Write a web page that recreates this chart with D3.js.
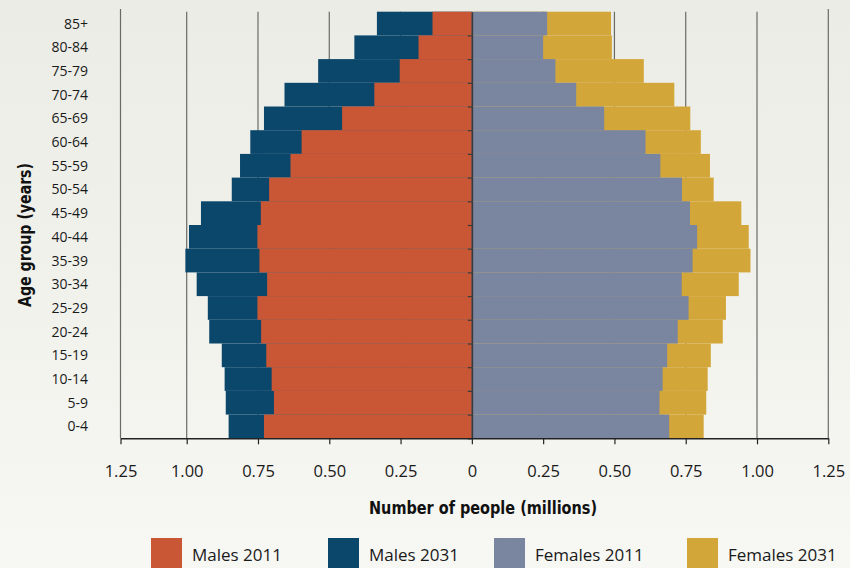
<!DOCTYPE html>
<html>
<head>
<meta charset="utf-8">
<script src="https://cdn.jsdelivr.net/npm/d3@7"></script>
<style>
  html, body { margin: 0; padding: 0; background: #f3f3ee; }
  svg { display: block; }
</style>
</head>
<body>
<svg id="chart" width="850" height="568"></svg>
<script>
// ---- data (millions of people) ----
const ageGroups = ["85+", "80-84", "75-79", "70-74", "65-69", "60-64", "55-59", "50-54", "45-49",
                   "40-44", "35-39", "30-34", "25-29", "20-24", "15-19", "10-14", "5-9", "0-4"];
const males2011   = [0.138, 0.187, 0.253, 0.342, 0.455, 0.597, 0.636, 0.711, 0.740,
                     0.752, 0.745, 0.718, 0.752, 0.739, 0.721, 0.702, 0.694, 0.729];
const males2031   = [0.333, 0.412, 0.539, 0.657, 0.729, 0.777, 0.813, 0.842, 0.950,
                     0.992, 1.005, 0.965, 0.926, 0.921, 0.877, 0.867, 0.863, 0.853];
const females2011 = [0.264, 0.250, 0.293, 0.366, 0.464, 0.609, 0.661, 0.737, 0.765,
                     0.790, 0.774, 0.736, 0.760, 0.722, 0.685, 0.669, 0.658, 0.692];
const females2031 = [0.488, 0.491, 0.603, 0.710, 0.766, 0.803, 0.835, 0.848, 0.945,
                     0.971, 0.977, 0.936, 0.891, 0.880, 0.838, 0.827, 0.822, 0.813];
const xTicks = [-1.25, -1, -0.75, -0.5, -0.25, 0, 0.25, 0.5, 0.75, 1, 1.25];
const gridValues = [-1.25, -1, -0.75, -0.5, -0.25, 0.25, 0.5, 0.75, 1, 1.25];
const legendLabels = ["Males 2011", "Males 2031", "Females 2011", "Females 2031"];
const xTitle = "Number of people (millions)";
const yTitle = "Age group (years)";

// ---- styles ----
const colors = {
  m2011: "#c95736",
  m2031: "#0b466b",
  f2011: "#7a859f",
  f2031: "#d3a639"
};
const legendColors = [colors.m2011, colors.m2031, colors.f2011, colors.f2031];
const legendX = [151, 328, 494, 687];

const svg = d3.select("#chart");

// background gradient
const defs = svg.append("defs");
const grad = defs.append("linearGradient").attr("id", "bg").attr("x1", 0).attr("y1", 0).attr("x2", 0).attr("y2", 1);
grad.append("stop").attr("offset", "0%").attr("stop-color", "#ecece6");
grad.append("stop").attr("offset", "100%").attr("stop-color", "#f7f7f3");
svg.append("rect").attr("width", 850).attr("height", 568).attr("fill", "url(#bg)");

// ---- scales ----
const x = d3.scaleLinear().domain([-1.25, -1, 1.25]).range([120.5, 186.7, 828.3]);
const plotTop = 11.7, plotBottom = 438.3;
const y = d3.scaleBand().domain(ageGroups).range([plotTop, plotBottom]).padding(0);
const yEdge = d3.scaleLinear().domain([0, ageGroups.length]).range([plotTop, plotBottom]);

// ---- grid lines ----
svg.append("g").selectAll("line").data(gridValues).join("line")
  .attr("x1", d => x(d)).attr("x2", d => x(d))
  .attr("y1", d => Math.abs(d) === 1.25 ? 9 : plotTop).attr("y2", plotBottom)
  .attr("stroke", "#6a6a66").attr("stroke-width", 1.2);

// ---- bars ----
function leftBars(vals, color) {
  svg.append("g").selectAll("rect").data(vals).join("rect")
    .attr("x", d => x(-d))
    .attr("width", d => x(0) - x(-d))
    .attr("y", (d, i) => y(ageGroups[i]))
    .attr("height", y.bandwidth())
    .attr("fill", color);
}
function rightBars(vals, color) {
  svg.append("g").selectAll("rect").data(vals).join("rect")
    .attr("x", x(0))
    .attr("width", d => x(d) - x(0))
    .attr("y", (d, i) => y(ageGroups[i]))
    .attr("height", y.bandwidth())
    .attr("fill", color);
}
leftBars(males2031, colors.m2031);
rightBars(females2031, colors.f2031);
leftBars(males2011, colors.m2011);
rightBars(females2011, colors.f2011);

// ---- centre axis with ticks at band edges ----
const yAxis = d3.axisLeft(yEdge)
  .tickValues(d3.range(1, ageGroups.length + 1))
  .tickSize(4).tickSizeOuter(0).tickFormat("");
const yg = svg.append("g").attr("transform", `translate(${x(0)},0)`).call(yAxis);
yg.select(".domain").attr("stroke", "#3a3a3a").attr("stroke-width", 1.6);
yg.selectAll(".tick line").attr("stroke", "#3a3a3a").attr("stroke-width", 1.2);

// ---- age labels ----
svg.append("g").selectAll("text").data(ageGroups).join("text")
  .attr("x", 88)
  .attr("y", d => y(d) + y.bandwidth() / 2)
  .attr("dy", "0.36em")
  .attr("text-anchor", "end")
  .attr("font-family", "'Open Sans', 'Noto Sans', sans-serif")
  .attr("font-size", 14)
  .attr("fill", "#1a1a1a")
  .text(d => d);

// ---- bottom axis ----
const xAxis = d3.axisBottom(x)
  .tickValues(xTicks)
  .tickSize(6).tickSizeOuter(0).tickPadding(21)
  .tickFormat(d => d === 0 ? "0" : d3.format(".2f")(Math.abs(d)));
const xg = svg.append("g").attr("transform", `translate(0,${plotBottom})`).call(xAxis);
xg.select(".domain").attr("stroke", "#222").attr("stroke-width", 1.6);
xg.selectAll(".tick line").attr("stroke", "#222").attr("stroke-width", 1.2);
xg.selectAll(".tick text")
  .attr("font-family", "'Open Sans', 'Noto Sans', sans-serif")
  .attr("font-size", 16.5)
  .attr("fill", "#1a1a1a");

// ---- axis titles ----
svg.append("text")
  .attr("x", 483).attr("y", 508).attr("dy", "0.36em")
  .attr("text-anchor", "middle")
  .attr("font-family", "'Liberation Sans Narrow', 'DejaVu Sans Condensed', sans-serif")
  .attr("font-weight", "bold")
  .attr("font-size", 17)
  .attr("fill", "#111")
  .attr("textLength", 228).attr("lengthAdjust", "spacingAndGlyphs")
  .text(xTitle);

svg.append("text")
  .attr("transform", "translate(25,235) rotate(-90)")
  .attr("dy", "0.36em")
  .attr("text-anchor", "middle")
  .attr("font-family", "'Liberation Sans Narrow', 'DejaVu Sans Condensed', sans-serif")
  .attr("font-weight", "bold")
  .attr("font-size", 17)
  .attr("fill", "#111")
  .attr("textLength", 144).attr("lengthAdjust", "spacingAndGlyphs")
  .text(yTitle);

// ---- legend ----
const lg = svg.append("g").selectAll("g").data(legendLabels).join("g")
  .attr("transform", (d, i) => `translate(${legendX[i]},538)`);
lg.append("rect").attr("width", 31).attr("height", 31).attr("fill", (d, i) => legendColors[i]);
lg.append("text")
  .attr("x", 41).attr("y", 17).attr("dy", "0.36em")
  .attr("font-family", "'Open Sans', 'Noto Sans', sans-serif")
  .attr("font-size", 17)
  .attr("fill", "#1a1a1a")
  .text(d => d);
</script>
</body>
</html>
